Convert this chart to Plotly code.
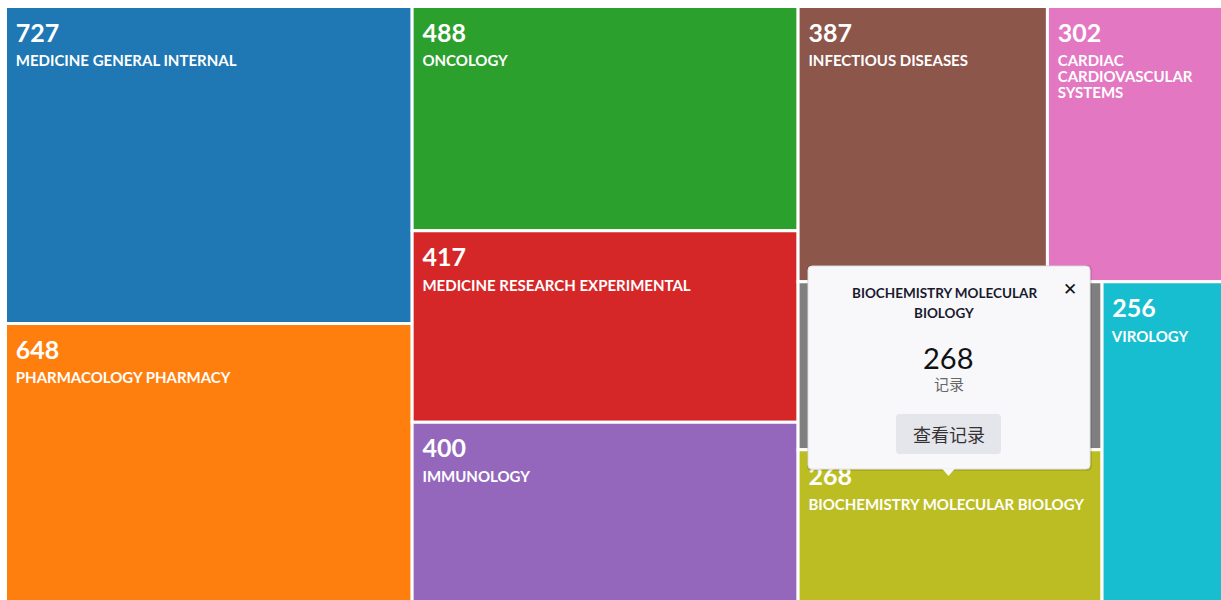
import plotly.graph_objects as go

W, H = 1242, 606

categories = [
    "MEDICINE GENERAL INTERNAL",
    "PHARMACOLOGY PHARMACY",
    "ONCOLOGY",
    "MEDICINE RESEARCH EXPERIMENTAL",
    "IMMUNOLOGY",
    "INFECTIOUS DISEASES",
    "CARDIAC CARDIOVASCULAR SYSTEMS",
    "HEALTH CARE SCIENCES SERVICES",
    "BIOCHEMISTRY MOLECULAR BIOLOGY",
    "VIROLOGY",
]
records = [727, 648, 488, 417, 400, 387, 302, 288, 268, 256]
# how each category name wraps inside its tile
label_lines = [
    ["MEDICINE GENERAL INTERNAL"],
    ["PHARMACOLOGY PHARMACY"],
    ["ONCOLOGY"],
    ["MEDICINE RESEARCH EXPERIMENTAL"],
    ["IMMUNOLOGY"],
    ["INFECTIOUS DISEASES"],
    ["CARDIAC", "CARDIOVASCULAR", "SYSTEMS"],
    ["HEALTH CARE SCIENCES SERVICES"],
    ["BIOCHEMISTRY MOLECULAR BIOLOGY"],
    ["VIROLOGY"],
]
colors = ["#1f77b4", "#ff7f0e", "#2ca02c", "#d62728", "#9467bd",
          "#8c564b", "#e377c2", "#7f7f7f", "#bcbd22", "#17becf"]

selected = "BIOCHEMISTRY MOLECULAR BIOLOGY"
# tile whose text sits entirely under the popup card
covered = "HEALTH CARE SCIENCES SERVICES"

FONT = "Lato"
NB = "\u00a0"

number_tpl = f"{NB}<br><span style='font-size:25px'><b><span style='font-size:30px'>{NB}</span>%{{value}}</b></span>"
number_templates = ["" if c == covered else number_tpl for c in categories]

# label block: two spacer lines, then the wrapped name in 15px bold
label_text = [
    "" if c == covered else
    f"<span style='font-size:25px'>{NB}</span><br>{NB}<br>"
    + "<br>".join(f"<span style='font-size:15px'><b>{NB}{NB}{ln}</b></span>" for ln in lines)
    for c, lines in zip(categories, label_lines)
]
label_templates = ["" if c == covered else "%{text}" for c in categories]

common_tm = dict(
    labels=categories,
    parents=[""] * len(categories),
    values=records,
    sort=False,
    textposition="top left",
    textinfo="none",
    hoverinfo="skip",
    tiling=dict(packing="squarify", squarifyratio=1.618, pad=0),
    pathbar=dict(visible=False),
    domain=dict(x=[5.5 / W, 1], y=[0, 1 - 6.5 / H]),
)

# coloured tiles carrying the record counts
tiles = go.Treemap(
    marker=dict(colors=colors, line=dict(color="white", width=3),
                pad=dict(t=0, l=0, r=0, b=0)),
    texttemplate=number_templates,
    textfont=dict(family=FONT, size=14, color="white"),
    **common_tm,
)

# transparent copy of the same layout carrying the category names
names = go.Treemap(
    marker=dict(colors=["rgba(0,0,0,0)"] * len(categories), line=dict(width=0),
                pad=dict(t=0, l=0, r=0, b=0)),
    text=label_text,
    texttemplate=label_templates,
    textfont=dict(family=FONT, size=12.3, color="white"),
    **common_tm,
)

fig = go.Figure([tiles, names])


def px(x):
    return x / W


def py(y):
    return 1 - y / H


def rounded_rect(x0, y0, x1, y1, r):
    return (f"M {px(x0 + r)},{py(y0)} L {px(x1 - r)},{py(y0)} Q {px(x1)},{py(y0)} {px(x1)},{py(y0 + r)} "
            f"L {px(x1)},{py(y1 - r)} Q {px(x1)},{py(y1)} {px(x1 - r)},{py(y1)} "
            f"L {px(x0 + r)},{py(y1)} Q {px(x0)},{py(y1)} {px(x0)},{py(y1 - r)} "
            f"L {px(x0)},{py(y0 + r)} Q {px(x0)},{py(y0)} {px(x0 + r)},{py(y0)} Z")


# popup card for the selected category
sel = categories.index(selected)
bx0, by0, bx1, by1 = 808, 266, 1090, 469
popup_bg = "#f8f8fb"
shapes = [
    dict(type="path", xref="paper", yref="paper", path=rounded_rect(bx0 - 1, by0 - 1, bx1 + 2, by1 + 2, 5),
         fillcolor="rgba(0,0,0,0.10)", line_width=0, layer="above"),
    dict(type="path", xref="paper", yref="paper", path=rounded_rect(bx0, by0, bx1, by1, 4),
         fillcolor=popup_bg, line=dict(color="#e0e0e6", width=1), layer="above"),
    dict(type="path", xref="paper", yref="paper",
         path=f"M {px(942)},{py(by1 - 0.5)} L {px(948.5)},{py(476)} L {px(955)},{py(by1 - 0.5)} Z",
         fillcolor=popup_bg, line_width=0, layer="above"),
    dict(type="path", xref="paper", yref="paper", path=rounded_rect(896, 414, 1001, 454, 4),
         fillcolor="#e5e5ec", line_width=0, layer="above"),
]

common = dict(xref="paper", yref="paper", showarrow=False, xanchor="center", yanchor="middle")
annotations = [
    dict(text="<b>BIOCHEMISTRY MOLECULAR</b>", x=px(944), y=py(292.5),
         font=dict(family=FONT, size=13.5, color="#1a1a2e"), **common),
    dict(text="<b>BIOLOGY</b>", x=px(944), y=py(313),
         font=dict(family=FONT, size=13.5, color="#1a1a2e"), **common),
    dict(text="<b>✕</b>", x=px(1070), y=py(289),
         font=dict(family="DejaVu Sans", size=17, color="#111111"), **common),
    dict(text=str(records[sel]), x=px(948.5), y=py(357),
         font=dict(family=FONT, size=29, color="#111111"), **common),
    dict(text="记录", x=px(949), y=py(383.5),
         font=dict(family="Noto Sans CJK SC", size=15, color="#666666"), **common),
    dict(text="查看记录", x=px(949), y=py(434),
         font=dict(family="Noto Sans CJK SC", size=18, color="#333333"), **common),
]

fig.update_layout(
    width=W, height=H,
    margin=dict(l=0, r=0, t=0, b=0),
    paper_bgcolor="white",
    shapes=shapes,
    annotations=annotations,
)

# the chart runs past the right and bottom edges of the page; keep the page from scrolling
fig.write_html(
    "out.html",
    post_script="document.documentElement.style.overflow='hidden';document.body.style.overflow='hidden';",
)
